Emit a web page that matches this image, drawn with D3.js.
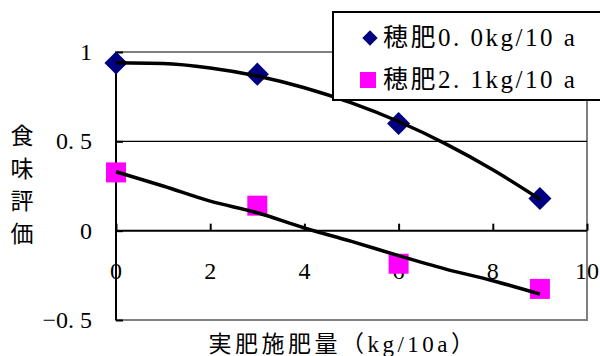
<!DOCTYPE html>
<html lang="ja">
<head>
    <meta charset="UTF-8">
    <title>食味評価</title>
    <script src="https://d3js.org/d3.v7.min.js"></script>
</head>
<body style="margin:0;background:#fff">
<script>
    // measured points
    var xPoints = [0, 3, 6, 9];
    var series0 = [0.938, 0.876, 0.60, 0.18];    // 穂肥0.0
    var series1 = [0.326, 0.14, -0.185, -0.326]; // 穂肥2.1

    // trend lines at x = 0..9
    var trendX = [0, 1, 2, 3, 4, 5, 6, 7, 8, 9];
    var trend0 = [0.94, 0.936, 0.911, 0.866, 0.80, 0.715, 0.611, 0.486, 0.341, 0.176];
    var trend1 = [0.33, 0.25, 0.165, 0.10, 0.015, -0.06, -0.14, -0.215, -0.28, -0.355];

    var xTicks = [0, 2, 4, 6, 8, 10];
    var yTicks = [-0.5, 0, 0.5, 1];
    var yTickLabels = ["−0. 5", "0", "0. 5", "1"];
    var legendNames = ["穂肥0. 0kg/10 a", "穂肥2. 1kg/10 a"];
    var yTitle = ["食", "味", "評", "価"];
    var xTitle = "実肥施肥量（kg/10a）";

    var FONT = "'Liberation Serif', 'Noto Sans CJK JP', serif";
    var width = 600, height = 356;
    var x = d3.scaleLinear().domain([0, 10]).range([116, 587]);
    var y = d3.scaleLinear().domain([-0.5, 1]).range([320, 52]);

    var svg = d3.select("body").append("svg")
        .attr("width", width)
        .attr("height", height);

    // plot frame (gray)
    svg.append("rect")
        .attr("x", x(0)).attr("y", y(1))
        .attr("width", x(10) - x(0)).attr("height", y(-0.5) - y(1))
        .attr("fill", "none")
        .attr("stroke", "#808080")
        .attr("stroke-width", 2);

    // gridline at 0.5
    svg.append("line")
        .attr("x1", x(0)).attr("x2", x(10))
        .attr("y1", y(0.5)).attr("y2", y(0.5))
        .attr("stroke", "#000").attr("stroke-width", 1.2);

    // y axis, ticks inward
    var yAxis = svg.append("g")
        .attr("transform", "translate(" + x(0) + ",0)")
        .call(d3.axisRight(y).tickValues(yTicks).tickSize(7).tickFormat(""));
    yAxis.select(".domain").attr("stroke-width", 2).attr("d", "M0," + y(-0.5) + "V" + y(1));
    yAxis.selectAll(".tick line").attr("stroke-width", 2);

    svg.selectAll(".ylab")
        .data(yTicks)
        .enter().append("text")
        .attr("class", "ylab")
        .attr("x", 92)
        .attr("y", function (d) { return y(d) + 8; })
        .attr("text-anchor", "end")
        .style("font-family", FONT)
        .style("font-size", "24px")
        .text(function (d, i) { return yTickLabels[i]; });

    // x axis at y=0, ticks upward
    var xAxis = svg.append("g")
        .attr("transform", "translate(0," + y(0) + ")")
        .call(d3.axisTop(x).tickValues(xTicks).tickSize(7).tickFormat(""));
    xAxis.select(".domain").attr("stroke-width", 2).attr("d", "M" + x(0) + ",0H" + x(10));
    xAxis.selectAll(".tick line").attr("stroke-width", 2);

    svg.selectAll(".xlab")
        .data(xTicks)
        .enter().append("text")
        .attr("class", "xlab")
        .attr("x", function (d) { return x(d); })
        .attr("y", y(0) + 48)
        .attr("text-anchor", "middle")
        .style("font-family", FONT)
        .style("font-size", "24px")
        .text(function (d) { return d; });

    // markers
    svg.selectAll(".dia")
        .data(xPoints)
        .enter().append("path")
        .attr("class", "dia")
        .attr("d", d3.symbol().type(d3.symbolDiamond2).size(340))
        .attr("transform", function (d, i) { return "translate(" + x(d) + "," + y(series0[i]) + ")"; })
        .attr("fill", "#000080");

    svg.selectAll(".sq")
        .data(xPoints)
        .enter().append("rect")
        .attr("class", "sq")
        .attr("x", function (d) { return x(d) - 10; })
        .attr("y", function (d, i) { return y(series1[i]) - 10; })
        .attr("width", 20).attr("height", 20)
        .attr("fill", "#ff00ff");

    // trend lines
    var line = d3.line()
        .x(function (d, i) { return x(trendX[i]); })
        .y(function (d) { return y(d); })
        .curve(d3.curveMonotoneX);

    [trend0, trend1].forEach(function (t) {
        svg.append("path")
            .attr("d", line(t))
            .attr("fill", "none")
            .attr("stroke", "#000")
            .attr("stroke-width", 3.5);
    });

    // legend
    var lg = svg.append("g");
    lg.append("rect")
        .attr("x", 333).attr("y", 12)
        .attr("width", 280).attr("height", 88)
        .attr("fill", "#fff")
        .attr("stroke", "#000").attr("stroke-width", 2);
    lg.append("path")
        .attr("d", d3.symbol().type(d3.symbolDiamond2).size(150))
        .attr("transform", "translate(370,38)")
        .attr("fill", "#000080");
    lg.append("rect")
        .attr("x", 360).attr("y", 72).attr("width", 16).attr("height", 16)
        .attr("fill", "#ff00ff");
    lg.selectAll(".lt")
        .data(legendNames)
        .enter().append("text")
        .attr("class", "lt")
        .attr("x", 383)
        .attr("y", function (d, i) { return 46 + i * 42; })
        .style("font-family", FONT)
        .style("font-size", "25px")
        .style("letter-spacing", "2.5px")
        .text(function (d) { return d; });

    // axis titles
    svg.selectAll(".yt")
        .data(yTitle)
        .enter().append("text")
        .attr("class", "yt")
        .attr("x", 22)
        .attr("y", function (d, i) { return 135 + i * 32.5 + 9; })
        .attr("text-anchor", "middle")
        .style("font-family", FONT)
        .style("font-size", "23px")
        .text(function (d) { return d; });

    svg.append("text")
        .attr("x", 343)
        .attr("y", 352)
        .attr("text-anchor", "middle")
        .style("font-family", FONT)
        .style("font-size", "23px")
        .style("letter-spacing", "3.5px")
        .text(xTitle);
</script>
</body>
</html>
